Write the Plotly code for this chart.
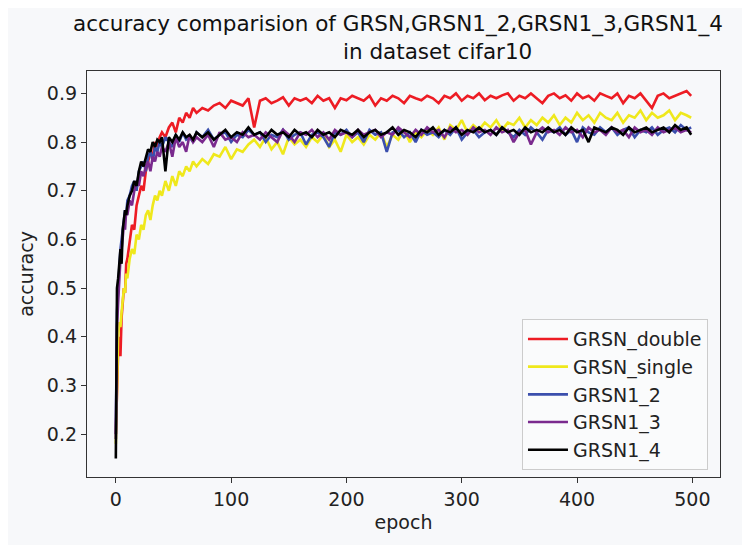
import plotly.graph_objects as go

epochs = [0, 1, 2, 3, 4, 5, 6, 7, 8, 9, 10,
          12, 14, 16, 18, 20, 22, 24, 26, 28, 30, 32, 34, 36, 38, 40,
          43, 46, 49, 52, 55, 58, 61, 64, 67, 70,
          75, 80, 85, 90, 95, 100, 105, 110, 115, 120,
          125, 130, 135, 140, 145, 150, 155, 160, 165, 170,
          175, 180, 185, 190, 195, 200, 205, 210, 215, 220,
          225, 230, 235, 240, 245, 250, 255, 260, 265, 270,
          275, 280, 285, 290, 295, 300, 305, 310, 315, 320,
          325, 330, 335, 340, 345, 350, 355, 360, 365, 370,
          375, 380, 385, 390, 395, 400, 405, 410, 415, 420,
          425, 430, 435, 440, 445, 450, 455, 460, 465, 470,
          475, 480, 485, 490, 495, 499]

grsn_double = [0.20, 0.30, 0.37, 0.40, 0.36, 0.44, 0.47, 0.50, 0.49, 0.55, 0.56,
               0.60, 0.63, 0.62, 0.67, 0.69, 0.71, 0.70, 0.74, 0.76, 0.78, 0.77, 0.80, 0.79, 0.81, 0.82,
               0.81, 0.83, 0.84, 0.82, 0.85, 0.84, 0.86, 0.85, 0.87, 0.86,
               0.870, 0.865, 0.875, 0.880, 0.870, 0.885, 0.880, 0.875, 0.890, 0.830,
               0.885, 0.890, 0.880, 0.885, 0.892, 0.875, 0.890, 0.885, 0.890, 0.880,
               0.895, 0.885, 0.890, 0.870, 0.890, 0.886, 0.895, 0.890, 0.885, 0.895,
               0.875, 0.890, 0.885, 0.895, 0.890, 0.880, 0.895, 0.890, 0.886, 0.895,
               0.890, 0.880, 0.895, 0.890, 0.900, 0.885, 0.895, 0.890, 0.900, 0.886,
               0.895, 0.890, 0.896, 0.900, 0.885, 0.895, 0.890, 0.900, 0.890, 0.880,
               0.895, 0.900, 0.890, 0.896, 0.885, 0.900, 0.890, 0.895, 0.885, 0.900,
               0.895, 0.890, 0.900, 0.880, 0.895, 0.890, 0.900, 0.885, 0.870, 0.895,
               0.900, 0.890, 0.895, 0.900, 0.905, 0.895]

grsn_single = [0.18, 0.33, 0.40, 0.43, 0.42, 0.45, 0.47, 0.50, 0.49, 0.53, 0.52,
               0.56, 0.58, 0.57, 0.61, 0.60, 0.63, 0.62, 0.65, 0.66, 0.64, 0.67, 0.69, 0.68, 0.70, 0.69,
               0.72, 0.70, 0.73, 0.71, 0.74, 0.73, 0.75, 0.74, 0.76, 0.75,
               0.765, 0.755, 0.775, 0.770, 0.790, 0.765, 0.785, 0.780, 0.795, 0.805,
               0.790, 0.810, 0.785, 0.800, 0.775, 0.810, 0.795, 0.805, 0.790, 0.810,
               0.800, 0.815, 0.790, 0.805, 0.780, 0.815, 0.800, 0.810, 0.795, 0.815,
               0.805, 0.820, 0.790, 0.815, 0.805, 0.825, 0.800, 0.820, 0.810, 0.825,
               0.815, 0.830, 0.805, 0.835, 0.825, 0.845, 0.820, 0.835, 0.825, 0.840,
               0.830, 0.845, 0.825, 0.840, 0.835, 0.850, 0.830, 0.845, 0.835, 0.850,
               0.840, 0.855, 0.835, 0.850, 0.840, 0.860, 0.845, 0.855, 0.840, 0.860,
               0.850, 0.845, 0.860, 0.840, 0.855, 0.850, 0.865, 0.845, 0.860, 0.850,
               0.855, 0.865, 0.845, 0.860, 0.855, 0.850]

grsn1_2 = [0.20, 0.45, 0.50, 0.55, 0.58, 0.60, 0.62, 0.64, 0.66, 0.65, 0.68,
           0.69, 0.71, 0.72, 0.70, 0.74, 0.75, 0.76, 0.74, 0.77, 0.78, 0.76, 0.79, 0.78, 0.80, 0.79,
           0.81, 0.80, 0.79, 0.815, 0.80, 0.82, 0.805, 0.81, 0.80, 0.82,
           0.810, 0.825, 0.805, 0.815, 0.820, 0.800, 0.815, 0.810, 0.825, 0.815,
           0.820, 0.800, 0.815, 0.810, 0.825, 0.805, 0.815, 0.820, 0.795, 0.815,
           0.820, 0.810, 0.790, 0.820, 0.815, 0.825, 0.810, 0.820, 0.800, 0.825,
           0.815, 0.820, 0.780, 0.820, 0.825, 0.810, 0.820, 0.800, 0.825, 0.815,
           0.820, 0.810, 0.825, 0.815, 0.830, 0.805, 0.820, 0.825, 0.810, 0.820,
           0.825, 0.815, 0.830, 0.820, 0.810, 0.825, 0.815, 0.830, 0.820, 0.805,
           0.825, 0.820, 0.830, 0.815, 0.825, 0.800, 0.830, 0.820, 0.815, 0.830,
           0.820, 0.830, 0.815, 0.825, 0.830, 0.810, 0.825, 0.820, 0.830, 0.815,
           0.825, 0.830, 0.820, 0.835, 0.825, 0.830]

grsn1_3 = [0.19, 0.42, 0.47, 0.52, 0.56, 0.58, 0.61, 0.63, 0.62, 0.66, 0.65,
           0.68, 0.67, 0.70, 0.72, 0.71, 0.74, 0.73, 0.75, 0.76, 0.74, 0.77, 0.76, 0.78, 0.77, 0.79,
           0.78, 0.80, 0.77, 0.81, 0.79, 0.80, 0.78, 0.815, 0.80, 0.81,
           0.800, 0.815, 0.790, 0.820, 0.805, 0.810, 0.800, 0.820, 0.810, 0.815,
           0.805, 0.820, 0.810, 0.800, 0.825, 0.815, 0.800, 0.820, 0.815, 0.825,
           0.810, 0.820, 0.805, 0.825, 0.815, 0.820, 0.810, 0.825, 0.815, 0.820,
           0.825, 0.810, 0.820, 0.815, 0.830, 0.820, 0.810, 0.825, 0.815, 0.830,
           0.820, 0.825, 0.810, 0.830, 0.820, 0.825, 0.815, 0.830, 0.820, 0.825,
           0.815, 0.830, 0.820, 0.825, 0.800, 0.820, 0.825, 0.795, 0.820, 0.830,
           0.820, 0.825, 0.815, 0.830, 0.820, 0.825, 0.810, 0.830, 0.820, 0.825,
           0.815, 0.830, 0.820, 0.825, 0.810, 0.830, 0.820, 0.825, 0.815, 0.830,
           0.820, 0.825, 0.830, 0.820, 0.825, 0.820]

grsn1_4 = [0.15, 0.50, 0.52, 0.55, 0.58, 0.55, 0.62, 0.64, 0.66, 0.65, 0.67,
           0.69, 0.70, 0.72, 0.71, 0.74, 0.76, 0.75, 0.77, 0.785, 0.78, 0.80, 0.79, 0.805, 0.80, 0.81,
           0.74, 0.81, 0.80, 0.815, 0.805, 0.82, 0.81, 0.815, 0.805, 0.82,
           0.810, 0.820, 0.805, 0.815, 0.825, 0.810, 0.820, 0.815, 0.830, 0.815,
           0.820, 0.810, 0.825, 0.815, 0.820, 0.810, 0.825, 0.815, 0.820, 0.810,
           0.825, 0.815, 0.820, 0.810, 0.825, 0.820, 0.815, 0.825, 0.810, 0.820,
           0.825, 0.815, 0.820, 0.830, 0.815, 0.825, 0.820, 0.810, 0.825, 0.820,
           0.830, 0.815, 0.825, 0.820, 0.830, 0.815, 0.825, 0.820, 0.830, 0.820,
           0.825, 0.815, 0.830, 0.820, 0.825, 0.815, 0.830, 0.820, 0.825, 0.820,
           0.830, 0.820, 0.825, 0.815, 0.830, 0.820, 0.825, 0.800, 0.830, 0.825,
           0.820, 0.830, 0.825, 0.815, 0.830, 0.820, 0.825, 0.830, 0.820, 0.825,
           0.830, 0.820, 0.835, 0.825, 0.830, 0.815]

series_names = ["GRSN_double", "GRSN_single", "GRSN1_2", "GRSN1_3", "GRSN1_4"]
series_values = [grsn_double, grsn_single, grsn1_2, grsn1_3, grsn1_4]
series_colors = ["#ed1c24", "#efe81c", "#3b4fad", "#7a2a8e", "#000000"]

x_ticks = [0, 100, 200, 300, 400, 500]
y_ticks = [0.2, 0.3, 0.4, 0.5, 0.6, 0.7, 0.8, 0.9]

title_line1 = "accuracy comparision of GRSN,GRSN1_2,GRSN1_3,GRSN1_4"
title_line2 = "in dataset cifar10"

bg = "#f7f8fa"
font_family = "DejaVu Sans"
fs = 19

fig = go.Figure()
for name, vals, col in zip(series_names, series_values, series_colors):
    fig.add_trace(go.Scatter(x=epochs, y=vals, mode="lines", name=name,
                             line=dict(color=col, width=2.6)))

axis_common = dict(showline=True, linecolor="#333333", linewidth=1.3, mirror=True,
                   ticks="outside", ticklen=5, tickcolor="#333333", tickwidth=1.2,
                   showgrid=False, zeroline=False, automargin=False,
                   tickfont=dict(family=font_family, size=fs, color="#222222"))

# page body has an 8px default margin, so the figure is 742x537 and offsets are reduced
fig.update_layout(
    width=742, height=537,
    paper_bgcolor=bg, plot_bgcolor=bg,
    margin=dict(l=79, r=30, t=63, b=68, autoexpand=False),
    font=dict(family=font_family, color="#222222", size=fs),
    xaxis=dict(range=[-25, 524], tickvals=x_ticks,
               title=dict(text="epoch", font=dict(size=fs), standoff=6), **axis_common),
    yaxis=dict(range=[0.112, 0.946], tickvals=y_ticks, tickformat=".1f",
               title=dict(text="accuracy", font=dict(size=fs), standoff=8), **axis_common),
    legend=dict(x=0.981, y=0.017, xanchor="right", yanchor="bottom",
                bgcolor="rgba(250,251,252,0.9)", bordercolor="#cccccc", borderwidth=1,
                font=dict(family=font_family, size=fs, color="#222222"),
                itemwidth=40),
    showlegend=True,
)

fig.add_annotation(text=title_line1, xref="paper", yref="paper", x=0.491, y=1.115,
                   xanchor="center", yanchor="middle", showarrow=False,
                   font=dict(family=font_family, size=21.5, color="#111111"))
fig.add_annotation(text=title_line2, xref="paper", yref="paper", x=0.554, y=1.048,
                   xanchor="center", yanchor="middle", showarrow=False,
                   font=dict(family=font_family, size=21.5, color="#111111"))

fig.write_html("out.html")
